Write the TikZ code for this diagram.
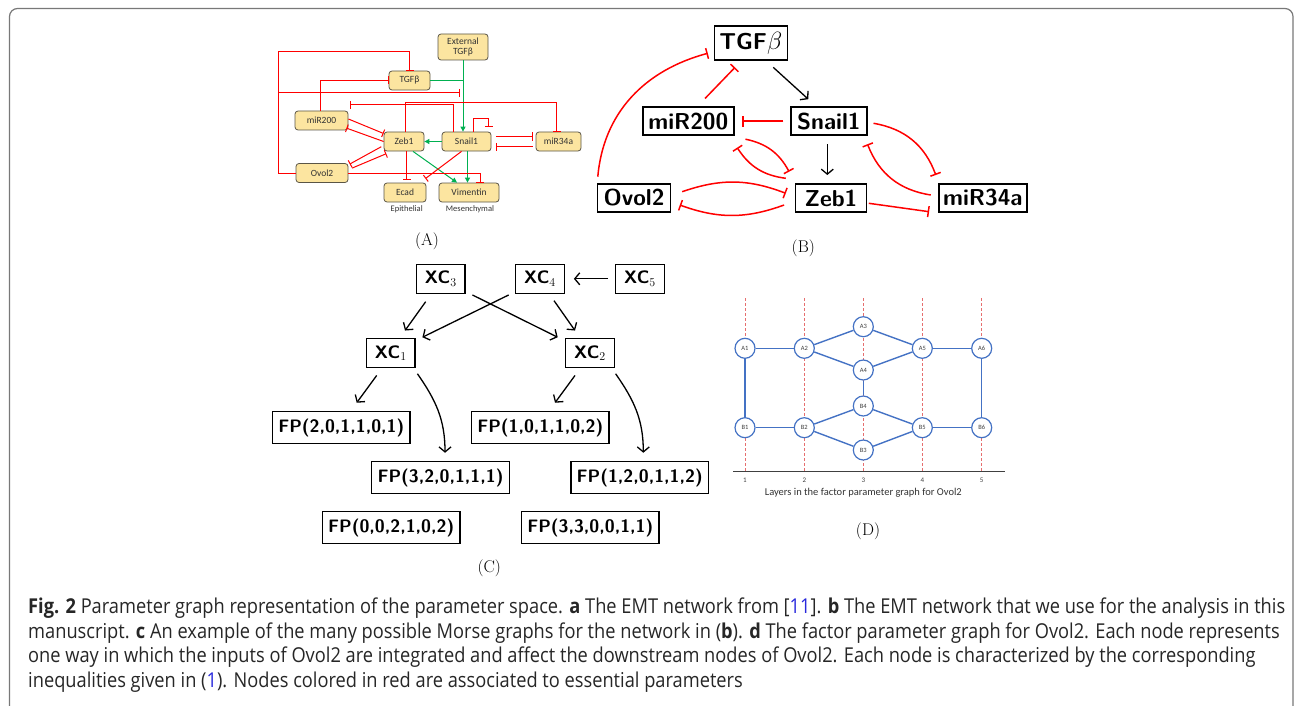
\documentclass[tikz,border=0pt]{standalone}
\usepackage{fontspec}
\newfontfamily\calib{Carlito}
\newfontfamily\capfont[FakeStretch=0.89]{Open Sans}
\usetikzlibrary{arrows.meta}
\definecolor{boxfill}{RGB}{252,229,160}
\definecolor{boxline}{RGB}{90,85,70}
\definecolor{inhred}{RGB}{255,0,0}
\definecolor{actgreen}{RGB}{0,176,80}
\definecolor{fpblue}{RGB}{68,114,196}
\definecolor{layerred}{RGB}{230,110,110}
\definecolor{refblue}{RGB}{40,40,220}
\definecolor{framegray}{RGB}{120,120,120}
\begin{document}
\begin{tikzpicture}[x=1pt, y=1pt,
  anode/.style={draw=boxline, fill=boxfill, rounded corners=3pt, line width=0.8pt, inner sep=0pt, minimum height=19pt, font=\calib\fontsize{9.5}{10.5}\selectfont, text=black!80},
  bnode/.style={draw, line width=1.4pt, inner sep=0pt, minimum height=28pt, font=\sffamily\bfseries\fontsize{23}{26}\selectfont},
  cnode/.style={draw, line width=1.3pt, inner sep=0pt, minimum height=30pt, font=\sffamily\bfseries\fontsize{18}{20}\selectfont},
  dnode/.style={circle, draw=fpblue, fill=white, line width=1.2pt, inner sep=0pt, minimum size=20pt, font=\calib\fontsize{6.5}{7}\selectfont, text=black!75},
  inhA/.style={draw=inhred, line width=1pt, -{Bar[width=8pt]}},
  actA/.style={draw=actgreen, line width=1pt, -{Triangle[length=5pt,width=5pt]}},
  inhB/.style={draw=inhred, line width=1.5pt, -{Bar[width=11pt]}},
  actB/.style={line width=1.3pt, -{Straight Barb[length=5pt,width=12pt]}},
  dedge/.style={draw=fpblue, line width=1.4pt},
  plabel/.style={font=\fontsize{17}{20}\selectfont},
  capline/.style={anchor=base west, inner sep=0pt, font=\capfont\fontsize{20.5}{24}\selectfont, text=black!85}]
\useasboundingbox (0,0) rectangle (1295,-706);
\draw[framegray, line width=1.2pt, rounded corners=8pt] (9.5,-706) -- (9.5,-8.5) -- (1293,-8.5) -- (1293,-706);

\node[anode, minimum width=50pt, minimum height=26pt, align=center] (extA) at (463,-47) {External\\TGFβ};
\node[anode, minimum width=41pt] (tgfA) at (409.5,-80.5) {TGFβ};
\node[anode, minimum width=53pt] (mirA) at (321.5,-120.5) {miR200};
\node[anode, minimum width=40pt] (zebA) at (404,-141.5) {Zeb1};
\node[anode, minimum width=49pt] (snailA) at (466.5,-141.5) {Snail1};
\node[anode, minimum width=45pt] (mir34A) at (558.5,-141.5) {miR34a};
\node[anode, minimum width=52pt] (ovolA) at (322,-173) {Ovol2};
\node[anode, minimum width=42pt] (ecadA) at (405,-192.5) {Ecad};
\node[anode, minimum width=60pt] (vimA) at (469,-192.5) {Vimentin};
\node[font=\calib\fontsize{8.5}{10}\selectfont, text=black!80] (epiA) at (406.7,-209.3) {Epithelial};
\node[font=\calib\fontsize{8.5}{10}\selectfont, text=black!80] (mesA) at (470,-209.3) {Mesenchymal};
\coordinate (topleft) at (278,-52);
\coordinate (branch) at (278,-93);
\draw[inhA] (ovolA.west) -| (topleft) -| (tgfA.north);
\draw[inhA, shorten >=3pt] (branch) -- (branch -| extA.south);
\draw[actA] (extA.south) -- (extA.south |- snailA.north);
\draw[draw=actgreen, line width=1pt] (tgfA.east) -- (tgfA.east -| extA.south);
\draw[inhA] ([xshift=-1.5pt]mirA.north) |- (tgfA.west);
\draw[inhA] ([xshift=-13pt]snailA.north) |- ([shift={(1.3,6)}]mirA.north east);
\draw[inhA] ([xshift=1.7pt]zebA.north) -- ++(0,29) -| ([xshift=-1.8pt]mir34A.north);
\draw[inhA, shorten >=5pt] ([xshift=7pt]snailA.north) -- ++(0,13) -| ([xshift=22pt]snailA.north);
\draw[inhA] ([yshift=1.5pt]mirA.east) -- ([yshift=8pt]zebA.west);
\draw[inhA] (zebA.west) -- ([shift={(-2,2.3)}]mirA.south east);
\draw[inhA] ([shift={(-2.3,-5.2)}]zebA.west) -- ([shift={(1.3,-1)}]ovolA.north east);
\draw[inhA] ([shift={(3.7,-5)}]ovolA.north east) -- ([shift={(2.7,-2.3)}]zebA.south west);
\draw[actA] (snailA.west) -- (zebA.east);
\draw[inhA, shorten <=5pt, shorten >=3pt] ([yshift=5pt]snailA.east) -- ([yshift=5pt]mir34A.west);
\draw[inhA, shorten <=3pt, shorten >=5pt] ([yshift=-5pt]mir34A.west) -- ([yshift=-5pt]snailA.east);
\draw[inhA, shorten >=3pt] ([xshift=2.7pt]zebA.south) -- ([xshift=1.7pt]ecadA.north);
\draw[actA] ([xshift=9pt]zebA.south) -- ([xshift=-12pt]vimA.north);
\draw[actA] ([xshift=1pt]snailA.south) -- ([xshift=1pt]snailA.south |- vimA.north);
\draw[inhA] ([xshift=-5pt]snailA.south) -- ([shift={(-1,4)}]ecadA.north east);
\draw[inhA] (ovolA.east) -| ([xshift=11pt]vimA.north);
\node[plabel] (labA) at (427,-241) {(A)};

\node[bnode, minimum width=73pt, minimum height=34pt] (tgfB) at (750.7,-43) {TGF$\beta$};
\node[bnode, minimum width=91pt] (mirB) at (688.3,-121.2) {miR200};
\node[bnode, minimum width=76pt] (snailB) at (828.8,-121.2) {Snail1};
\node[bnode, minimum width=73pt] (ovolB) at (634,-198) {Ovol2};
\node[bnode, minimum width=71pt] (zebB) at (831,-198) {Zeb1};
\node[bnode, minimum width=88pt] (mir34B) at (982.8,-198) {miR34a};
\draw[inhB] ([shift={(1,6.6)}]ovolB.north west) to[out=85, in=195] ([shift={(-5.7,-10.3)}]tgfB.west);
\draw[inhB] ([shift={(16.7,8)}]mirB.north) -- ([shift={(-15.7,-6.7)}]tgfB.south);
\draw[actB] ([shift={(-14.6,-6.7)}]tgfB.south east) -- ([shift={(-20.5,7.3)}]snailB.north);
\draw[inhB, shorten <=6.7pt, shorten >=7.7pt] (snailB.west) -- (mirB.east);
\draw[actB] ([shift={(-1.5,-8.3)}]snailB.south) -- ([shift={(-3.7,8.3)}]zebB.north);
\draw[inhB] ([shift={(11,-3.3)}]mirB.south east) to[bend left=25] ([shift={(-5.7,11.6)}]zebB.north west);
\draw[inhB] ([shift={(-9,5)}]zebB.north west) to[bend left=25] ([shift={(2.7,-11.7)}]mirB.south east);
\draw[inhB] ([shift={(6,-2.1)}]snailB.east) to[bend left=30] ([shift={(-2.3,8.3)}]mir34B.north west);
\draw[inhB] ([shift={(-7.3,3)}]mir34B.west) to[bend left=30] ([shift={(0,-8.3)}]snailB.south east);
\draw[inhB] ([shift={(11,6.3)}]ovolB.east) to[bend left=20] ([shift={(-9,4.7)}]zebB.west);
\draw[inhB] ([shift={(-10.7,-7)}]zebB.west) to[bend left=20] ([shift={(8.6,-7)}]ovolB.east);
\draw[inhB] ([shift={(1.6,-5.3)}]zebB.east) -- ([shift={(-9,-13.7)}]mir34B.west);
\node[plabel] (labB) at (803.3,-248.3) {(B)};

\node[cnode, minimum width=48.5pt, minimum height=29pt] (xc3) at (440.8,-278.8) {XC$_3$};
\node[cnode, minimum width=48.5pt, minimum height=29pt] (xc4) at (540,-278.8) {XC$_4$};
\node[cnode, minimum width=48.5pt, minimum height=29pt] (xc5) at (640,-278.8) {XC$_5$};
\node[cnode, minimum width=48.5pt, minimum height=29pt] (xc1) at (390.8,-353) {XC$_1$};
\node[cnode, minimum width=48.5pt, minimum height=29pt] (xc2) at (590,-353) {XC$_2$};
\node[cnode, minimum width=137.5pt, minimum height=32pt] (fpa) at (341.3,-427.8) {FP(2,0,1,1,0,1)};
\node[cnode, minimum width=137.5pt, minimum height=32pt] (fpb) at (540.3,-427.8) {FP(1,0,1,1,0,2)};
\node[cnode, minimum width=137.5pt, minimum height=32pt] (fpc) at (440.5,-477.8) {FP(3,2,0,1,1,1)};
\node[cnode, minimum width=137.5pt, minimum height=32pt] (fpd) at (639.7,-477.8) {FP(1,2,0,1,1,2)};
\node[cnode, minimum width=137.5pt, minimum height=32pt] (fpe) at (391.2,-527.5) {FP(0,0,2,1,0,2)};
\node[cnode, minimum width=137.5pt, minimum height=32pt] (fpf) at (590.3,-527.5) {FP(3,3,0,0,1,1)};
\draw[actB, shorten <=7pt, shorten >=9pt] (xc5.west) -- (xc4.east);
\draw[actB] ([shift={(-15.1,-7.7)}]xc3.south) -- ([shift={(14.2,7.3)}]xc1.north);
\draw[actB] ([shift={(-6.4,-1)}]xc4.south west) -- ([shift={(6.7,0.6)}]xc1.north east);
\draw[actB] ([shift={(6.7,-1)}]xc3.south east) -- ([shift={(-7.4,0.6)}]xc2.north west);
\draw[actB] ([shift={(14,-6.7)}]xc4.south) -- ([shift={(-15,7.3)}]xc2.north);
\draw[actB] ([shift={(-14.1,-7.3)}]xc1.south) -- ([shift={(15.4,8.4)}]fpa.north);
\draw[actB] ([shift={(1.7,-5.6)}]xc1.south east) to[out=-55, in=90] ([shift={(4.5,8.4)}]fpc.north);
\draw[actB] ([shift={(-15,-7.3)}]xc2.south) -- ([shift={(14.7,8.4)}]fpb.north);
\draw[actB] ([shift={(0.7,-5.6)}]xc2.south east) to[out=-55, in=90] ([shift={(3.6,8.4)}]fpd.north);
\node[plabel] (labC) at (489.3,-568.3) {(C)};

\foreach \x/\n in {745/1, 804.3/2, 863.3/3, 922.3/4, 981.7/5} {
  \draw[layerred, line width=0.6pt, densely dashed] (\x,-298) -- (\x,-471);
  \node[font=\calib\fontsize{7}{8}\selectfont, text=black!75] at (\x,-480) {\n};
}
\draw[line width=1.5pt, black!75] (733.3,-471.7) -- (1005,-471.7);
\node[font=\calib\fontsize{10.5}{12}\selectfont, text=black!80] (axisD) at (863.3,-492.7) {Layers in the factor parameter graph for Ovol2};
\node[dnode] (a1) at (745,-348.3) {A1};
\node[dnode] (a2) at (804.3,-348.3) {A2};
\node[dnode] (a3) at (863.3,-326.7) {A3};
\node[dnode] (a4) at (863.3,-370) {A4};
\node[dnode] (a5) at (922.3,-348.3) {A5};
\node[dnode] (a6) at (981.7,-348.3) {A6};
\node[dnode] (b4) at (863.3,-406) {B4};
\node[dnode] (b1) at (745,-427.7) {B1};
\node[dnode] (b2) at (804.3,-427.7) {B2};
\node[dnode] (b5) at (922.3,-427.7) {B5};
\node[dnode] (b6) at (981.7,-427.7) {B6};
\node[dnode] (b3) at (863.3,-450) {B3};
\draw[dedge] (a1) -- (a2);
\draw[dedge] (a2) -- (a3);
\draw[dedge] (a2) -- (a4);
\draw[dedge] (a3) -- (a5);
\draw[dedge] (a4) -- (a5);
\draw[dedge] (a5) -- (a6);
\draw[dedge] (a1) -- (b1);
\draw[dedge] (a6) -- (b6);
\draw[dedge] (a4) -- (b4);
\draw[dedge] (b1) -- (b2);
\draw[dedge] (b2) -- (b4);
\draw[dedge] (b2) -- (b3);
\draw[dedge] (b4) -- (b5);
\draw[dedge] (b3) -- (b5);
\draw[dedge] (b5) -- (b6);
\node[plabel] (labD) at (868,-531) {(D)};

\node[capline] (cap1) at (28,-613) {\textbf{Fig. 2} Parameter graph representation of the parameter space. \textbf{a} The EMT network from [{\color{refblue}11}]. \textbf{b} The EMT network that we use for the analysis in this};
\node[capline] (cap2) at (28,-638) {manuscript. \textbf{c} An example of the many possible Morse graphs for the network in (\textbf{b}). \textbf{d} The factor parameter graph for Ovol2. Each node represents};
\node[capline] (cap3) at (28,-662) {one way in which the inputs of Ovol2 are integrated and affect the downstream nodes of Ovol2. Each node is characterized by the corresponding};
\node[capline] (cap4) at (28,-687) {inequalities given in ({\color{refblue}1}). Nodes colored in red are associated to essential parameters};
\end{tikzpicture}
\end{document}
